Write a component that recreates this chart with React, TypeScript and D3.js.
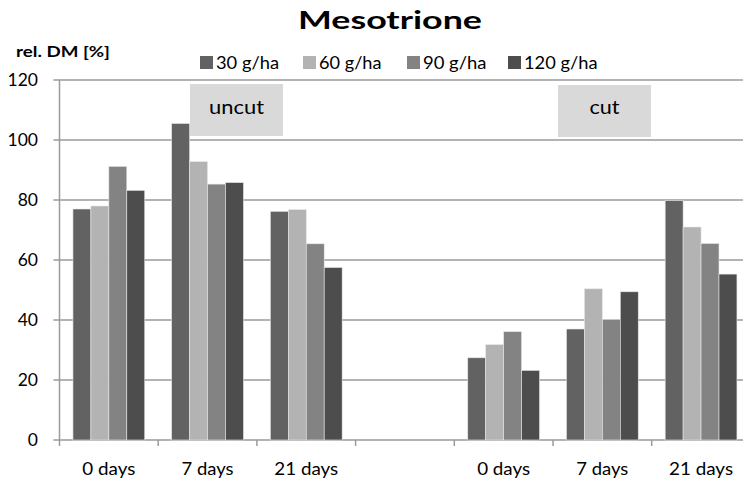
import React from "react";
import * as d3 from "d3";

const categories = ["0 days", "7 days", "21 days", "", "0 days", "7 days", "21 days"];
const categoryLabelWidths = [53, 52, 64, 0, 53, 52, 64];
const seriesNames = ["30 g/ha", "60 g/ha", "90 g/ha", "120 g/ha"];
const legendLabelWidths = [63, 62.5, 63.5, 73.5];
const seriesColors = ["#626262", "#b3b3b3", "#838383", "#4d4d4d"];
const s30 = [77, 105.5, 76.2, null, 27.4, 37, 79.8];
const s60 = [78, 92.8, 76.8, null, 31.8, 50.4, 71];
const s90 = [91.2, 85.3, 65.4, null, 36.1, 40.2, 65.5];
const s120 = [83.2, 85.8, 57.5, null, 23.2, 49.4, 55.3];
const yTicks = [0, 20, 40, 60, 80, 100, 120];
const boxLabels = ["uncut", "cut"];

const FONT = "Lato, 'Open Sans', sans-serif";

export default function App() {
  const W = 743, H = 480;
  const left = 59.5, plotTop = 80, plotBottom = 440;
  const catW = 98.7;
  const series = [s30, s60, s90, s120];

  const x = d3.scaleBand<number>().domain(d3.range(categories.length)).range([left, left + catW * categories.length]).padding(0);
  const xs = d3.scaleBand<number>().domain(d3.range(series.length)).range([0, x.bandwidth()]).paddingInner(0).paddingOuter(0.75);
  const y = d3.scaleLinear().domain([0, 120]).range([plotBottom, plotTop]);
  const right = W;

  const boxes = [
    { label: boxLabels[0], x0: 190, x1: 283, y0: 84, y1: 136, tw: 55 },
    { label: boxLabels[1], x0: 558, x1: 651, y0: 85, y1: 137, tw: 30 },
  ];

  return (
    <svg width={W} height={H} style={{ position: "absolute", left: 0, top: 0, background: "#fff" }} fontFamily={FONT}>
      <rect x={0} y={0} width={W} height={H} fill="#fff" />
      {/* gridlines */}
      {yTicks.map((t) => (
        <g key={t}>
          <line x1={left - 6} x2={right} y1={y(t)} y2={y(t)} stroke="#9a9a9a" strokeWidth={1.5} />
          <text x={38} y={y(t) + 6} textAnchor="end" fontSize={17.5} fill="#000">{t}</text>
        </g>
      ))}
      {/* y axis line */}
      <line x1={left} x2={left} y1={plotTop} y2={plotBottom} stroke="#9a9a9a" strokeWidth={1.5} />
      {/* x ticks */}
      {d3.range(categories.length + 1).map((i) => (
        <line key={i} x1={left + i * catW} x2={left + i * catW} y1={plotBottom} y2={plotBottom + 6} stroke="#9a9a9a" strokeWidth={1.5} />
      ))}
      {/* bars */}
      {series.map((s, si) =>
        s.map((v, ci) =>
          v == null ? null : (
            <rect
              key={si + "-" + ci}
              x={(x(ci) as number) + (xs(si) as number)}
              y={y(v)}
              width={xs.bandwidth()}
              height={y(0) - y(v)}
              fill={seriesColors[si]}
              stroke="#e6e6e6"
              strokeWidth={0.6}
            />
          )
        )
      )}
      {/* category labels */}
      {categories.map((c, i) =>
        c ? (
          <text key={i} x={(x(i) as number) + x.bandwidth() / 2} y={475} textAnchor="middle" fontSize={17.5} fill="#000"
            textLength={categoryLabelWidths[i]} lengthAdjust="spacingAndGlyphs">{c}</text>
        ) : null
      )}
      {/* boxes */}
      {boxes.map((b) => (
        <g key={b.label}>
          <rect x={b.x0} y={b.y0} width={b.x1 - b.x0} height={b.y1 - b.y0} fill="#d9d9d9" />
          <text x={(b.x0 + b.x1) / 2} y={114} textAnchor="middle" fontSize={18.5} fill="#000"
            textLength={b.tw} lengthAdjust="spacingAndGlyphs">{b.label}</text>
        </g>
      ))}
      {/* title */}
      <text x={390} y={29} textAnchor="middle" fontSize={24} fontWeight="bold" fill="#000"
        textLength={184} lengthAdjust="spacingAndGlyphs">Mesotrione</text>
      <text x={16} y={57} fontSize={14.5} fontWeight="bold" fill="#000" textLength={94} lengthAdjust="spacingAndGlyphs">rel. DM [%]</text>
      {/* legend */}
      {seriesNames.map((n, i) => {
        const lx = [200, 303, 407, 508][i];
        return (
          <g key={n}>
            <rect x={lx} y={56} width={13} height={13} fill={seriesColors[i]} />
            <text x={lx + 16} y={68.5} fontSize={16.5} fill="#000" textLength={legendLabelWidths[i]} lengthAdjust="spacingAndGlyphs">{n}</text>
          </g>
        );
      })}
    </svg>
  );
}
